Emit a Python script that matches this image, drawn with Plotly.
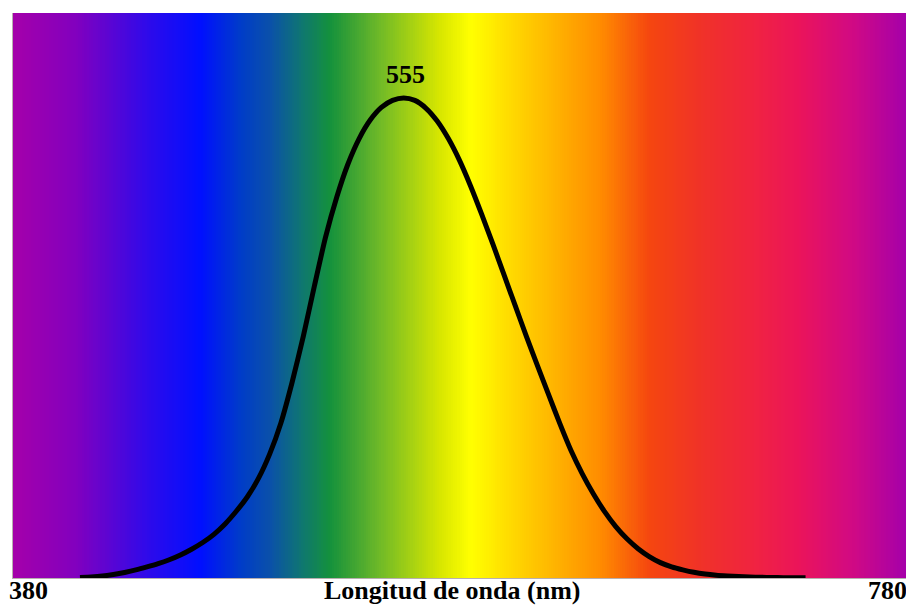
import plotly.graph_objects as go

# Spectrum background colour stops (wavelength in nm -> colour)
spectrum_nm = [380, 408, 441, 464, 482, 495, 510, 522, 544, 571, 585, 607, 643, 665, 688, 712, 732, 755, 780]
spectrum_colors = ["#A500AA", "#8200BE", "#2D0AEB", "#000FFF", "#003CC8", "#0A50AA", "#0F786E",
                   "#14913C", "#6EB928", "#D7E600", "#FFFF00", "#FFD200", "#FF8C00", "#F5460F",
                   "#F03228", "#F02341", "#EB145A", "#D20A82", "#A500AA"]

# Luminosity curve (relative sensitivity)
curve_nm = [410, 415, 420, 425, 430, 435, 440, 445, 450, 455, 460, 465, 470, 475, 480, 485, 490, 495,
            500, 505, 510, 515, 520, 525, 530, 535, 540, 545, 550, 555, 560, 565, 570, 575, 580, 585,
            590, 595, 600, 605, 610, 615, 620, 625, 630, 635, 640, 645, 650, 655, 660, 665, 670, 675,
            680, 685, 690, 695, 700, 705, 710, 715, 720, 725, 730, 735]
curve_val = [0.0012, 0.0022, 0.004, 0.0073, 0.0116, 0.0168, 0.023, 0.0298, 0.038, 0.048, 0.06, 0.0739,
             0.091, 0.1126, 0.139, 0.1693, 0.208, 0.2586, 0.323, 0.4073, 0.503, 0.6082, 0.71, 0.7932,
             0.862, 0.9149, 0.954, 0.9803, 0.995, 1.0, 0.995, 0.9786, 0.952, 0.9154, 0.87, 0.8163,
             0.757, 0.6949, 0.631, 0.5668, 0.503, 0.4412, 0.381, 0.321, 0.265, 0.217, 0.175, 0.1382,
             0.107, 0.0816, 0.061, 0.0446, 0.032, 0.0232, 0.017, 0.0119, 0.0082, 0.0057, 0.0041,
             0.0029, 0.0021, 0.0015, 0.001, 0.0007, 0.0005, 0.0004]

peak_nm = 555
x_min, x_max = 380, 780
y_top = 565 / 480

# Build colourscale from the stops
lo, hi = spectrum_nm[0], spectrum_nm[-1]
colorscale = [[(w - lo) / (hi - lo), c] for w, c in zip(spectrum_nm, spectrum_colors)]

cols = [x_min + 0.5 + i for i in range(x_max - x_min)]
rows = [y_top * 0.25, y_top * 0.75]

fig = go.Figure()
fig.add_trace(go.Heatmap(
    x=cols, y=rows, z=[cols, cols],
    colorscale=colorscale, zmin=lo, zmax=hi,
    showscale=False, hoverinfo="skip"))
fig.add_trace(go.Scatter(
    x=curve_nm, y=curve_val, mode="lines",
    line=dict(color="black", width=5, shape="spline", smoothing=0.6),
    hoverinfo="skip", showlegend=False))

font = dict(family="Liberation Serif", size=26, color="black")
fig.add_annotation(x=peak_nm, y=1.0, xref="x", yref="y", text="<b>555</b>", showarrow=False,
                   xanchor="center", yanchor="bottom", yshift=7, xshift=2, font=font)
fig.add_annotation(x=0, y=0, xref="paper", yref="paper", text="<b>380</b>", showarrow=False,
                   xanchor="left", yanchor="top", xshift=-6, yshift=4, font=font)
fig.add_annotation(x=1, y=0, xref="paper", yref="paper", text="<b>780</b>", showarrow=False,
                   xanchor="right", yanchor="top", xshift=3, yshift=4, font=font)
fig.add_annotation(x=0.492, y=0, xref="paper", yref="paper", text="<b>Longitud de onda (nm)</b>",
                   showarrow=False, xanchor="center", yanchor="top", yshift=4, font=font)

fig.update_layout(
    width=906, height=605,
    margin=dict(l=13, r=0, t=13, b=27),
    paper_bgcolor="white", plot_bgcolor="white",
    showlegend=False,
    xaxis=dict(range=[x_min, x_max], showgrid=False, zeroline=False, showticklabels=False,
               ticks="", showline=True, linecolor="#b8b0b0", linewidth=1, fixedrange=True),
    yaxis=dict(range=[0, y_top], showgrid=False, zeroline=False, showticklabels=False,
               ticks="", showline=True, linecolor="#b8b0b0", linewidth=1, fixedrange=True),
)

fig.write_html("out.html", config={"displayModeBar": False},
               post_script="document.body.style.margin='0';document.body.style.overflow='hidden';")
